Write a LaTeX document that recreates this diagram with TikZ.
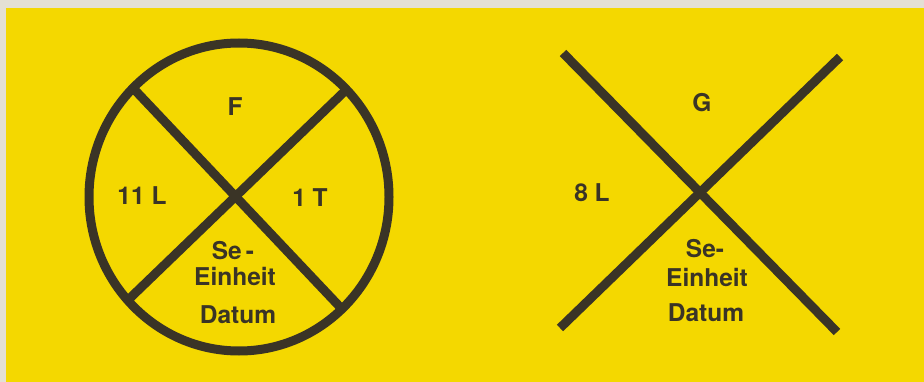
\documentclass[tikz,border=0pt]{standalone}
\usepackage{fontspec}
\setmainfont{TeX Gyre Heros}
\definecolor{paper}{RGB}{228,224,212}
\definecolor{signyellow}{RGB}{244,216,0}
\definecolor{ink}{RGB}{58,52,38}
\begin{document}
\begin{tikzpicture}[x=1pt,y=-1pt,
  mark line/.style={draw=ink,line width=9pt},
  lbl/.style={text=ink,font=\fontsize{24.5}{28}\selectfont\bfseries,anchor=base,inner sep=0pt}]
\useasboundingbox (0,0) rectangle (924,382);
\fill[paper] (0,0) rectangle (924,382);
\fill[signyellow] (6,8) rectangle (924,382);
% left sign: circle with cross
\coordinate (c) at (239,197);
\draw[mark line] (c) ellipse [x radius=150, y radius=154];
\coordinate (p1) at (132,87);
\coordinate (p2) at (340,307);
\coordinate (p3) at (346,90);
\coordinate (p4) at (127,301);
\draw[mark line] (p1) -- (p2);
\draw[mark line] (p3) -- (p4);
\node[lbl] (f) at (235,116) {F};
\node[lbl] (l11) at (142,205) {11 L};
\node[lbl] (t1) at (310,207) {1 T};
\node[lbl] (se1) at (233,259) {Se\,-};
\node[lbl] (ein1) at (235,286) {Einheit};
\node[lbl] (dat1) at (238,323) {Datum};
% right sign: cross
\coordinate (q1) at (563,53);
\coordinate (q2) at (837,332);
\coordinate (q3) at (840,57);
\coordinate (q4) at (560,328);
\draw[mark line] (q1) -- (q2);
\draw[mark line] (q3) -- (q4);
\node[lbl] (g) at (702,112) {G};
\node[lbl] (l8) at (592,202) {8 L};
\node[lbl] (se2) at (705,258) {Se-};
\node[lbl] (ein2) at (707,287) {Einheit};
\node[lbl] (dat2) at (706,321) {Datum};
\end{tikzpicture}
\end{document}
